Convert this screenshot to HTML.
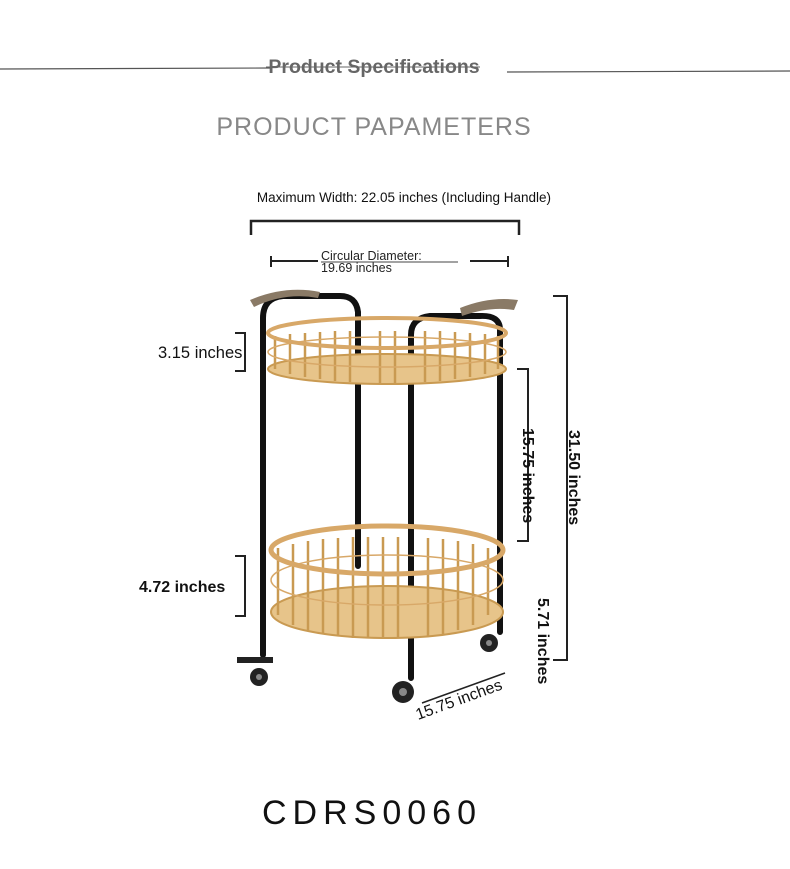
<!DOCTYPE html>
<html><head><meta charset="utf-8"><style>
html,body{margin:0;padding:0;background:#fff;width:790px;height:869px;overflow:hidden}
svg{display:block}
text{font-family:"Liberation Sans",sans-serif}
</style></head><body>
<svg width="790" height="869" viewBox="0 0 790 869">
<line x1="0" y1="69" x2="270" y2="68" stroke="#555" stroke-width="1.2"/>
<line x1="507" y1="72" x2="790" y2="71" stroke="#555" stroke-width="1.2"/>
<text x="374" y="73" text-anchor="middle" font-size="19.5" font-weight="bold" fill="#666">Product Specifications</text>
<line x1="266" y1="67" x2="480" y2="67" stroke="#666" stroke-width="1"/>
<text x="374" y="135" text-anchor="middle" font-size="25" fill="#888" letter-spacing="1">PRODUCT PAPAMETERS</text>
<text x="404" y="202" text-anchor="middle" font-size="13.5" fill="#111">Maximum Width: 22.05 inches (Including Handle)</text>
<path d="M251 235 V221 H519 V235" fill="none" stroke="#222" stroke-width="2.5"/>
<path d="M271 256 V267 M271 261 H318 M470 261 H508 M508 256 V267" stroke="#222" stroke-width="2" fill="none"/>
<text x="321" y="260" font-size="12.5" fill="#222">Circular Diameter:</text>
<line x1="321" y1="262" x2="458" y2="262" stroke="#444" stroke-width="1"/>
<text x="321" y="272" font-size="12.5" fill="#222">19.69 inches</text>
<g stroke="#111" stroke-width="6" fill="none" stroke-linecap="round">
<path d="M263 655 V318 Q263 298 283 296 H340 Q356 296 358 312 V566"/>
<path d="M411 678 V335 Q411 318 430 316 H480 Q500 315 500 330 V632"/>
</g>
<path d="M250 300 Q285 285 320 292 L318 298 Q285 292 254 307 Z" fill="#8a7a66"/>
<path d="M460 308 Q490 296 518 300 L514 310 Q490 306 462 316 Z" fill="#8a7a66"/>
<ellipse cx="387" cy="369" rx="119" ry="15" fill="#e7c48a" stroke="#c99a52" stroke-width="2"/>
<g stroke="#c99a52" stroke-width="2.5">
<line x1="275" y1="336" x2="275" y2="369"/><line x1="290" y1="334" x2="290" y2="374"/><line x1="305" y1="333" x2="305" y2="377"/><line x1="320" y1="332" x2="320" y2="379"/><line x1="335" y1="331" x2="335" y2="381"/><line x1="350" y1="331" x2="350" y2="382"/><line x1="380" y1="331" x2="380" y2="383"/><line x1="395" y1="331" x2="395" y2="383"/><line x1="425" y1="331" x2="425" y2="382"/><line x1="440" y1="331" x2="440" y2="381"/><line x1="455" y1="332" x2="455" y2="379"/><line x1="470" y1="333" x2="470" y2="377"/><line x1="485" y1="334" x2="485" y2="374"/><line x1="498" y1="336" x2="498" y2="369"/>
</g>
<ellipse cx="387" cy="333" rx="119" ry="15" fill="none" stroke="#d8a868" stroke-width="4"/>
<ellipse cx="387" cy="352" rx="119" ry="15" fill="none" stroke="#d8a868" stroke-width="1.5"/>
<ellipse cx="387" cy="612" rx="116" ry="26" fill="#e7c48a" stroke="#c99a52" stroke-width="2"/>
<g stroke="#c99a52" stroke-width="2.5">
<line x1="278" y1="548" x2="278" y2="615"/><line x1="293" y1="544" x2="293" y2="625"/><line x1="308" y1="541" x2="308" y2="630"/><line x1="323" y1="539" x2="323" y2="634"/><line x1="338" y1="538" x2="338" y2="636"/><line x1="353" y1="537" x2="353" y2="638"/><line x1="368" y1="537" x2="368" y2="638"/><line x1="383" y1="537" x2="383" y2="638"/><line x1="398" y1="537" x2="398" y2="638"/><line x1="428" y1="538" x2="428" y2="636"/><line x1="443" y1="539" x2="443" y2="634"/><line x1="458" y1="541" x2="458" y2="630"/><line x1="473" y1="544" x2="473" y2="625"/><line x1="488" y1="548" x2="488" y2="615"/>
</g>
<ellipse cx="387" cy="550" rx="116" ry="24" fill="none" stroke="#d8a868" stroke-width="5"/>
<ellipse cx="387" cy="580" rx="116" ry="25" fill="none" stroke="#d8a868" stroke-width="1.5"/>
<g fill="#222"><circle cx="259" cy="677" r="9"/><circle cx="403" cy="692" r="11"/><circle cx="489" cy="643" r="9"/><rect x="237" y="657" width="36" height="6"/></g>
<g fill="#888"><circle cx="259" cy="677" r="3"/><circle cx="403" cy="692" r="4"/><circle cx="489" cy="643" r="3"/></g>
<path d="M235 333 H245 V371 H235" fill="none" stroke="#222" stroke-width="2"/>
<text x="158" y="358" font-size="16.5" fill="#111">3.15 inches</text>
<path d="M235 556 H245 V616 H235" fill="none" stroke="#222" stroke-width="2"/>
<text x="139" y="592" font-size="16" font-weight="bold" fill="#111">4.72 inches</text>
<path d="M517 369 H528 V541 H517" fill="none" stroke="#222" stroke-width="2"/>
<text transform="translate(523 428) rotate(90)" font-size="16" font-weight="bold" fill="#111">15.75 inches</text>
<path d="M553 296 H567 V660 H553" fill="none" stroke="#222" stroke-width="2"/>
<text transform="translate(569 430) rotate(90)" font-size="16" font-weight="bold" fill="#111">31.50 inches</text>
<text transform="translate(538 598) rotate(90)" font-size="16" font-weight="bold" fill="#111">5.71 inches</text>
<text transform="translate(418 720) rotate(-20)" font-size="16" fill="#111">15.75 inches</text>
<line x1="422" y1="703" x2="505" y2="673" stroke="#222" stroke-width="1.5"/>
<text x="372" y="824" text-anchor="middle" font-size="34" fill="#111" letter-spacing="6">CDRS0060</text>
</svg>
</body></html>
